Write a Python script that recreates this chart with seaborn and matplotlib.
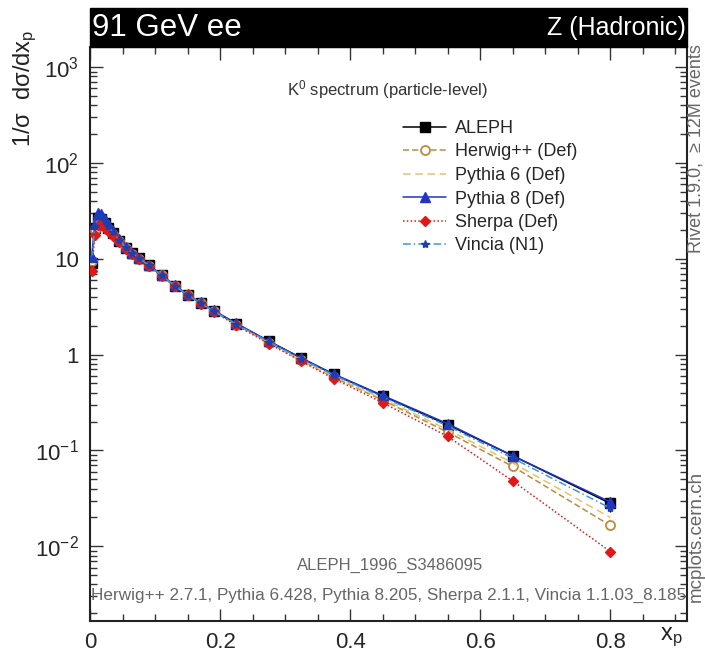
import matplotlib
matplotlib.use("Agg")
import matplotlib.pyplot as plt
import seaborn as sns
import pandas as pd
import numpy as np
from matplotlib.patches import Rectangle
from matplotlib.ticker import FixedLocator, FixedFormatter, LogLocator, MultipleLocator, NullFormatter

# ---------------- data ----------------
xp = [0.0025, 0.0075, 0.0125, 0.0175, 0.0225, 0.0275, 0.035, 0.045, 0.055, 0.065,
      0.075, 0.09, 0.11, 0.13, 0.15, 0.17, 0.19, 0.225, 0.275, 0.325, 0.375,
      0.45, 0.55, 0.65, 0.8]
aleph = [9.0, 21.0, 26.5, 26.0, 23.5, 21.0, 18.5, 15.5, 13.0, 11.5, 10.2, 8.6, 6.7,
         5.2, 4.2, 3.45, 2.85, 2.1, 1.38, 0.92, 0.62, 0.37, 0.185, 0.088, 0.028]
aleph_err = [0.4, 0.8, 0.9, 0.8, 0.7, 0.6, 0.5, 0.4, 0.35, 0.3, 0.28, 0.22, 0.17,
             0.13, 0.11, 0.09, 0.08, 0.06, 0.04, 0.03, 0.02, 0.013, 0.008, 0.005, 0.005]
herwig = [9.5, 20.0, 24.0, 24.0, 22.5, 20.5, 18.0, 15.2, 12.9, 11.3, 10.0, 8.5, 6.7,
          5.25, 4.2, 3.45, 2.85, 2.05, 1.33, 0.87, 0.58, 0.335, 0.155, 0.068, 0.0165]
pythia6 = [9.0, 20.0, 25.0, 25.0, 23.0, 21.0, 18.3, 15.4, 13.0, 11.4, 10.1, 8.6, 6.75,
           5.25, 4.2, 3.45, 2.85, 2.06, 1.34, 0.88, 0.59, 0.345, 0.165, 0.074, 0.020]
pythia8 = [10.5, 23.0, 30.0, 29.0, 26.0, 23.0, 19.5, 16.0, 13.4, 11.6, 10.3, 8.7, 6.8,
           5.3, 4.25, 3.5, 2.9, 2.12, 1.38, 0.92, 0.625, 0.375, 0.19, 0.088, 0.029]
sherpa = [7.5, 17.5, 22.5, 22.5, 21.0, 19.5, 17.2, 14.8, 12.7, 11.1, 9.9, 8.4, 6.65,
          5.2, 4.15, 3.4, 2.8, 2.02, 1.30, 0.85, 0.56, 0.315, 0.14, 0.048, 0.0088]
vincia = [10.0, 22.0, 28.0, 27.5, 25.0, 22.0, 19.0, 15.8, 13.2, 11.5, 10.2, 8.6, 6.7,
          5.25, 4.2, 3.45, 2.85, 2.08, 1.36, 0.90, 0.61, 0.36, 0.18, 0.083, 0.025]

series_names = ["ALEPH", "Herwig++ (Def)", "Pythia 6 (Def)", "Pythia 8 (Def)",
                "Sherpa (Def)", "Vincia (N1)"]
series_values = [aleph, herwig, pythia6, pythia8, sherpa, vincia]

xticks = [0, 0.2, 0.4, 0.6, 0.8]
xtick_labels = ["0", "0.2", "0.4", "0.6", "0.8"]
yticks = [1e-2, 1e-1, 1, 10, 1e2, 1e3]
ytick_labels = ["10$^{-2}$", "10$^{-1}$", "1", "10", "10$^{2}$", "10$^{3}$"]

# ---------------- style ----------------
sns.set_style("ticks")
plt.rcParams["font.family"] = ["Liberation Sans", "DejaVu Sans"]
plt.rcParams["mathtext.fontset"] = "custom"
plt.rcParams["mathtext.rm"] = "Liberation Sans"
plt.rcParams["mathtext.it"] = "Liberation Sans:italic"
plt.rcParams["mathtext.sf"] = "Liberation Sans"

styles = {
    "ALEPH": dict(color="black", linestyle="-", marker="s", markersize=6.5,
                  markerfacecolor="black", markeredgecolor="black"),
    "Herwig++ (Def)": dict(color="#c08a3a", linestyle=(0, (4, 2)), marker="o", markersize=6.5,
                           markerfacecolor="white", markeredgecolor="#c08a3a", markeredgewidth=1.3),
    "Pythia 6 (Def)": dict(color="#e3c46a", linestyle=(0, (5, 3)), marker="None"),
    "Pythia 8 (Def)": dict(color="#2233cc", linestyle="-", marker="^", markersize=6.5,
                           markerfacecolor="#2233cc", markeredgecolor="#2233cc"),
    "Sherpa (Def)": dict(color="#e01818", linestyle=(0, (1, 1.5)), marker="D", markersize=5,
                         markerfacecolor="#e01818", markeredgecolor="#e01818"),
    "Vincia (N1)": dict(color="#3a9ad8", linestyle=(0, (5, 2, 1, 2)), marker="*", markersize=6,
                        markerfacecolor="#1a40b0", markeredgecolor="#1a40b0"),
}

rows = []
for name, vals in zip(series_names, series_values):
    for x, v in zip(xp, vals):
        rows.append({"xp": x, "value": v, "series": name})
df = pd.DataFrame(rows)

fig = plt.figure(figsize=(7.05, 6.54), dpi=100)
ax = fig.add_axes([90 / 705, 1 - 621 / 654, (687 - 90) / 705, (621 - 47) / 654])

handles = []
for name in series_names:
    sub = df[df["series"] == name]
    st = styles[name]
    sns.lineplot(data=sub, x="xp", y="value", ax=ax, color=st["color"],
                 linestyle=st["linestyle"], marker=st["marker"],
                 markersize=st.get("markersize", 5),
                 markerfacecolor=st.get("markerfacecolor", st["color"]),
                 markeredgecolor=st.get("markeredgecolor", st["color"]),
                 markeredgewidth=st.get("markeredgewidth", 1.0),
                 linewidth=1.1, label=name, legend=False, errorbar=None,
                 zorder=3 if name != "ALEPH" else 2)
    handles.append(ax.get_lines()[-1])
    if name == "ALEPH":
        ax.errorbar(xp, aleph, yerr=aleph_err, fmt="none", ecolor="black",
                    elinewidth=1.0, capsize=0, zorder=2)

ax.set_yscale("log")
ax.set_xlim(0, 0.918)
ax.set_ylim(10 ** -2.78, 10 ** 3.21)
ax.set_xlabel("")
ax.set_ylabel("")

ax.xaxis.set_major_locator(FixedLocator(xticks))
ax.xaxis.set_major_formatter(FixedFormatter(xtick_labels))
ax.xaxis.set_minor_locator(MultipleLocator(0.05))
ax.yaxis.set_major_locator(FixedLocator(yticks))
ax.yaxis.set_major_formatter(FixedFormatter(ytick_labels))
ax.yaxis.set_minor_locator(LogLocator(base=10, subs=np.arange(2, 10), numticks=20))
ax.yaxis.set_minor_formatter(NullFormatter())

ax.tick_params(axis="both", which="both", direction="in", top=True, right=True,
               width=1.0, color="#333333")
ax.tick_params(axis="both", which="major", length=9, labelsize=16, pad=8)
ax.tick_params(axis="both", which="minor", length=5)
for sp in ax.spines.values():
    sp.set_linewidth(1.5)
    sp.set_color("#222222")

# header bar
fig.patches.append(Rectangle((90 / 705, 1 - 47 / 654), (687 - 90) / 705, 39 / 654,
                             transform=fig.transFigure, facecolor="black",
                             edgecolor="black", zorder=0))
fig.text(92 / 705, 1 - 28 / 654, "91 GeV ee", color="white", fontsize=22.5,
         ha="left", va="center")
fig.text(686 / 705, 1 - 28 / 654, "Z (Hadronic)", color="white", fontsize=18,
         ha="right", va="center")

# axis labels
fig.text(25 / 705, 1 - 30 / 654, "1/σ  dσ/dx$_{\\mathrm{p}}$", rotation=90,
         fontsize=17, ha="center", va="top", color="#222222")
fig.text(671 / 705, 1 - 637 / 654, "x$_{\\mathrm{p}}$", fontsize=17,
         ha="center", va="center", color="#222222")

# annotations
fig.text(388 / 705, 1 - 90 / 654, "K$^{0}$ spectrum (particle-level)",
         fontsize=12, ha="center", va="center", color="#333333")
fig.text(390 / 705, 1 - 565 / 654, "ALEPH_1996_S3486095", fontsize=12,
         ha="center", va="center", color="#666666")
fig.text(389 / 705, 1 - 595 / 654,
         "Herwig++ 2.7.1, Pythia 6.428, Pythia 8.205, Sherpa 2.1.1, Vincia 1.1.03_8.185",
         fontsize=12.3, ha="center", va="center", color="#666666")
fig.text(696 / 705, 1 - 44 / 654, "Rivet 1.9.0,  \u2265 12M events", rotation=90,
         fontsize=13, ha="center", va="top", color="#666666")
fig.text(696 / 705, 1 - 602 / 654, "mcplots.cern.ch", rotation=90,
         fontsize=13.5, ha="center", va="bottom", color="#666666")

leg = ax.legend(handles, series_names, loc="upper left",
                bbox_to_anchor=(403 / 705, 1 - 120 / 654), bbox_transform=fig.transFigure,
                frameon=False, fontsize=13, handlelength=2.4, handletextpad=0.5,
                labelspacing=0.36, borderpad=0, borderaxespad=0)

fig.savefig("out.png", dpi=100)
